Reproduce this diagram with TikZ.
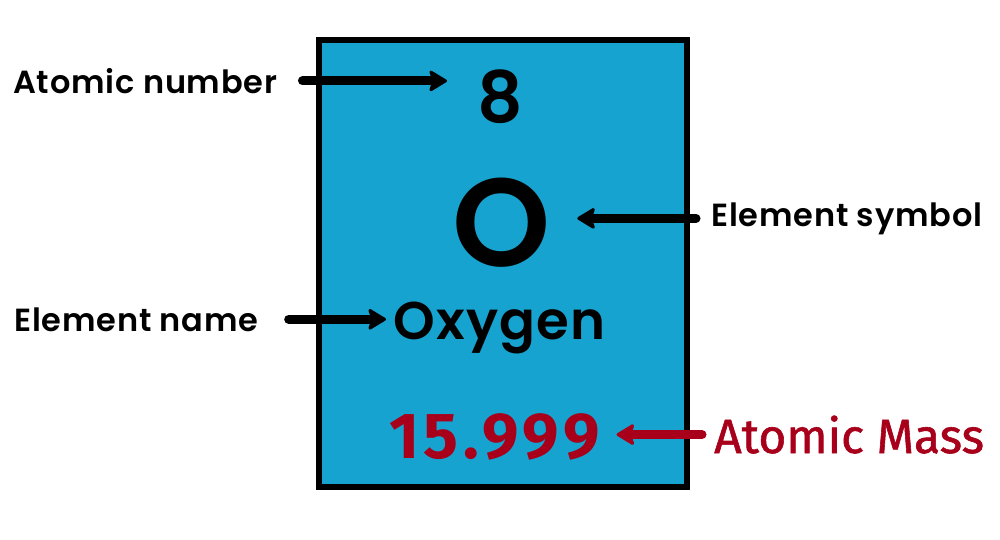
\documentclass[tikz,border=0pt]{standalone}
\usepackage{fontspec}
\setmainfont{Poppins}[BoldFont={Poppins SemiBold}]
\newfontfamily\tagfont{Poppins SemiBold}[LetterSpace=2.5]
\newfontfamily\massfont{Fira Sans}[FakeBold=1.2]
\newfontfamily\massnum{Fira Sans}[LetterSpace=7]
\usetikzlibrary{arrows.meta,positioning}

\definecolor{tileblue}{HTML}{17A3D0}
\definecolor{massred}{HTML}{A8001A}

\begin{document}
\begin{tikzpicture}[
    x=1pt, y=-1pt,
    tag/.style={font=\tagfont\fontsize{32}{36}\selectfont, inner sep=0pt, anchor=base west},
    value/.style={font=\tagfont\fontsize{53}{60}\selectfont, inner sep=0pt},
    pointer/.style={line width=9pt, line cap=round, -{Stealth[round, length=20pt, width=24pt, inset=4pt, line width=3pt]}}
]
    \useasboundingbox (0,0) rectangle (1000,540);

    % the element tile
    \draw[line width=6pt, fill=tileblue] (319,40) rectangle (687,487);

    \node[value, anchor=base, font=\bfseries\fontsize{71}{80}\selectfont] (anum) at (500,122.7) {8};
    \node[value, anchor=base, font=\fontseries{b}\fontsize{125}{140}\selectfont] (sym) at (502,266) {O};
    \node[value, anchor=base west] (name) at (393,339) {Oxygen};
    \node[value, anchor=base west, text=massred, font=\massnum\bfseries\fontsize{65}{72}\selectfont] (mass) at (389,458) {15.999};

    % labels
    \node[tag] (anumtxt) at (13,93.3) {Atomic number};
    \node[tag] (symtxt) at (711,226) {Element symbol};
    \node[tag] (nametxt) at (14,331) {Element name};
    \node[tag, text=massred, font=\massfont\fontsize{48}{56}\selectfont] (masstxt) at (714,453) {Atomic Mass};

    \draw[pointer, shorten <=25pt, shorten >=30pt] (anumtxt.east) -- (anumtxt.east -| anum.west);
    \draw[pointer, shorten <=15pt, shorten >=26pt] (symtxt.west) -- (symtxt.west -| sym.east);
    \draw[pointer, shorten <=30pt, shorten >=7pt] (nametxt.east) -- (nametxt.east -| name.west);
    \draw[pointer, draw=massred, fill=massred, shorten <=12pt, shorten >=16pt] (masstxt.west) -- (masstxt.west -| mass.east);
\end{tikzpicture}
\end{document}
